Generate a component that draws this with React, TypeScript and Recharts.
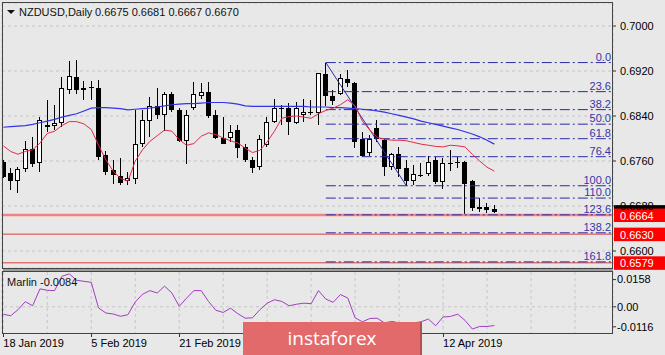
import React from 'react';
import { ComposedChart, Bar, Line, XAxis, YAxis, CartesianGrid, ReferenceLine } from 'recharts';

const FONT = '"Liberation Sans", Arial, Helvetica, sans-serif';
const BG = '#e8e8e8';

// Daily candles NZDUSD, 18 Jan 2019 .. 23 Apr 2019 (index = trading day)
const opens = [
  0.6759, 0.6738, 0.6724, 0.6745, 0.6781, 0.6756, 0.6820, 0.6823, 0.6828, 0.6886,
  0.6910, 0.6890, 0.6892, 0.6889, 0.6771, 0.6744, 0.6734, 0.6724, 0.6728, 0.6790,
  0.6832, 0.6858, 0.6842, 0.6879, 0.6851, 0.6796, 0.6854, 0.6876, 0.6882, 0.6842,
  0.6801, 0.6801, 0.6815, 0.6785, 0.6762, 0.6749, 0.6788, 0.6830, 0.6855, 0.6855,
  0.6828, 0.6842, 0.6846, 0.6846, 0.6915, 0.6876, 0.6880, 0.6905, 0.6899, 0.6799,
  0.6774, 0.6818, 0.6797, 0.6750, 0.6772, 0.6747, 0.6724, 0.6736, 0.6737, 0.6762,
  0.6722, 0.6756, 0.6759, 0.6759, 0.6724, 0.6674, 0.6679, 0.6675,
];
const highs = [
  0.6762, 0.6747, 0.6750, 0.6796, 0.6803, 0.6839, 0.6868, 0.6860, 0.6910, 0.6938,
  0.6940, 0.6902, 0.6902, 0.6904, 0.6777, 0.6762, 0.6765, 0.6741, 0.6851, 0.6851,
  0.6873, 0.6890, 0.6883, 0.6882, 0.6854, 0.6851, 0.6900, 0.6898, 0.6901, 0.6851,
  0.6839, 0.6824, 0.6824, 0.6791, 0.6768, 0.6806, 0.6839, 0.6870, 0.6860, 0.6863,
  0.6865, 0.6871, 0.6868, 0.6916, 0.6935, 0.6886, 0.6914, 0.6921, 0.6901, 0.6812,
  0.6806, 0.6833, 0.6800, 0.6774, 0.6785, 0.6762, 0.6753, 0.6756, 0.6769, 0.6768,
  0.6765, 0.6780, 0.6768, 0.6760, 0.6726, 0.6694, 0.6686, 0.6681,
];
const lows = [
  0.6729, 0.6708, 0.6703, 0.6741, 0.6750, 0.6741, 0.6812, 0.6815, 0.6821, 0.6880,
  0.6880, 0.6868, 0.6868, 0.6762, 0.6735, 0.6720, 0.6717, 0.6717, 0.6720, 0.6785,
  0.6803, 0.6835, 0.6813, 0.6848, 0.6794, 0.6754, 0.6851, 0.6871, 0.6836, 0.6800,
  0.6791, 0.6793, 0.6765, 0.6759, 0.6739, 0.6744, 0.6785, 0.6827, 0.6824, 0.6806,
  0.6826, 0.6830, 0.6842, 0.6824, 0.6857, 0.6860, 0.6877, 0.6892, 0.6783, 0.6768,
  0.6769, 0.6794, 0.6733, 0.6744, 0.6732, 0.6716, 0.6717, 0.6731, 0.6733, 0.6720,
  0.6710, 0.6742, 0.6747, 0.6664, 0.6671, 0.6670, 0.6667, 0.6667,
];
const closes = [
  0.6732, 0.6724, 0.6745, 0.6781, 0.6754, 0.6833, 0.6824, 0.6828, 0.6889, 0.6911,
  0.6886, 0.6886, 0.6889, 0.6768, 0.6741, 0.6735, 0.6721, 0.6729, 0.6790, 0.6833,
  0.6858, 0.6842, 0.6879, 0.6851, 0.6796, 0.6841, 0.6879, 0.6882, 0.6840, 0.6801,
  0.6791, 0.6812, 0.6784, 0.6762, 0.6747, 0.6799, 0.6830, 0.6855, 0.6852, 0.6830,
  0.6854, 0.6848, 0.6847, 0.6916, 0.6876, 0.6867, 0.6907, 0.6898, 0.6794, 0.6769,
  0.6800, 0.6799, 0.6750, 0.6772, 0.6745, 0.6725, 0.6737, 0.6734, 0.6759, 0.6723,
  0.6756, 0.6755, 0.6758, 0.6719, 0.6676, 0.6679, 0.6673, 0.6670,
];
// Fast moving average (red)
const fastMA = [
  0.6787, 0.6777, 0.6772, 0.6777, 0.6780, 0.6792, 0.6809, 0.6813, 0.6823, 0.6830,
  0.6830, 0.6826, 0.6816, 0.6788, 0.6762, 0.6742, 0.6729, 0.6724, 0.6760, 0.6780,
  0.6795, 0.6805, 0.6815, 0.6813, 0.6798, 0.6788, 0.6791, 0.6804, 0.6810, 0.6807,
  0.6801, 0.6796, 0.6792, 0.6783, 0.6775, 0.6779, 0.6794, 0.6813, 0.6836, 0.6839,
  0.6840, 0.6838, 0.6836, 0.6844, 0.6850, 0.6854, 0.6860, 0.6869, 0.6858, 0.6831,
  0.6815, 0.6802, 0.6799, 0.6797, 0.6797, 0.6796, 0.6793, 0.6790, 0.6788, 0.6786,
  0.6785, 0.6788, 0.6787, 0.6785, 0.6772, 0.6760, 0.6749, 0.6742,
];
// Slow moving average (blue)
const slowMA = [
  0.6820, 0.6821, 0.6822, 0.6823, 0.6825, 0.6828, 0.6831, 0.6834, 0.6838, 0.6841,
  0.6844, 0.6849, 0.6854, 0.6855, 0.6855, 0.6854, 0.6853, 0.6851, 0.6852, 0.6853,
  0.6854, 0.6856, 0.6858, 0.6860, 0.6861, 0.6862, 0.6862, 0.6863, 0.6864, 0.6864,
  0.6864, 0.6863, 0.6861, 0.6858, 0.6857, 0.6857, 0.6857, 0.6857, 0.6857, 0.6857,
  0.6857, 0.6857, 0.6856, 0.6856, 0.6856, 0.6855, 0.6855, 0.6854, 0.6853, 0.6852,
  0.6851, 0.6849, 0.6847, 0.6844, 0.6841, 0.6838, 0.6835, 0.6831, 0.6828, 0.6825,
  0.6822, 0.6819, 0.6816, 0.6812, 0.6808, 0.6803, 0.6797, 0.6790,
];
// Marlin oscillator
const marlin = [
  -0.0043, -0.0052, -0.0017, 0.0030, 0.0006, 0.0104, 0.0096, 0.0094, 0.0177, 0.0191,
  0.0154, 0.0148, 0.0142, -0.0007, -0.0036, -0.0042, -0.0055, -0.0046, 0.0028, 0.0073,
  0.0094, 0.0080, 0.0120, 0.0080, 0.0003, 0.0050, 0.0094, 0.0094, 0.0031, -0.0020,
  -0.0033, -0.0008, -0.0040, -0.0066, -0.0064, -0.0017, 0.0021, 0.0041, 0.0031, 0.0006,
  0.0015, 0.0021, 0.0018, 0.0094, 0.0045, 0.0026, 0.0071, 0.0051, -0.0064, -0.0087,
  -0.0068, -0.0066, -0.0093, -0.0085, -0.0093, -0.0104, -0.0093, -0.0087, -0.0071, -0.0110,
  -0.0059, -0.0056, -0.0043, -0.0079, -0.0129, -0.0114, -0.0114, -0.0109,
];

const gridTicks = [0, 6, 12, 18, 24, 30, 36, 42, 48, 54, 60, 66, 72, 78];
// date labels that are visible (the ones under the logo are not shown)
const dateTickIdx = [0, 12, 24, 60];
const dateNames = ['18 Jan 2019', '5 Feb 2019', '21 Feb 2019', '12 Apr 2019'];
const priceTicks = [0.66, 0.668, 0.676, 0.684, 0.692, 0.7];
const marlinTicks = [-0.0116, 0, 0.0158];
const fibLevels = [0, 23.6, 38.2, 50, 61.8, 76.4, 100, 110, 123.6, 138.2, 161.8];
const FIB_HIGH = 0.6935;
const FIB_LOW = 0.6716;
const FIB_FROM = 44;
const FIB_TO = 55;
const hLines = [0.6664, 0.663, 0.6579];
const LAST = 0.667;
const titleText = 'NZDUSD,Daily';
const ohlcText = '0.6675 0.6681 0.6667 0.6670';
const marlinLabel = 'Marlin -0.0084';

const X_DOMAIN: [number, number] = [-0.18, 83.19];
const Y_DOMAIN: [number, number] = [0.65698, 0.70409];
const M_DOMAIN: [number, number] = [-0.0152, 0.0202];

const rows = opens.map((o, i) => ({
  i,
  o,
  h: highs[i],
  l: lows[i],
  c: closes[i],
  range: [lows[i], highs[i]],
  fast: fastMA[i],
  slow: slowMA[i],
  marlin: marlin[i],
}));

function Candle(props: any) {
  const { x, y, width, height } = props;
  const d = props.payload ?? props;
  if (x == null || y == null || d == null) return null;
  const top = Math.min(y, y + height);
  const span = Math.abs(height);
  const { o, h, l, c } = d;
  const toY = (v: number) => (h === l ? top : top + ((h - v) / (h - l)) * span);
  const cx = Math.floor(x + width / 2) + 0.5;
  const bt = Math.round(toY(Math.max(o, c)));
  const bb = Math.round(toY(Math.min(o, c)));
  const up = c > o;
  let body;
  if (bb - bt <= 1) {
    body = <line x1={cx - 2.5} x2={cx + 2.5} y1={bt + 0.5} y2={bt + 0.5} stroke="#000" strokeWidth={1} />;
  } else if (up) {
    body = <rect x={cx - 2} y={bt + 0.5} width={4} height={bb - bt - 1} fill="#fff" stroke="#000" strokeWidth={1} />;
  } else {
    body = <rect x={cx - 2.5} y={bt} width={5} height={bb - bt} fill="#000" />;
  }
  return (
    <g>
      <line x1={cx} x2={cx} y1={Math.round(top)} y2={Math.round(top + span)} stroke="#000" strokeWidth={1} />
      {body}
    </g>
  );
}

function FibLabel(props: any) {
  const vb = props.viewBox;
  if (!vb) return null;
  return (
    <text x={vb.x + vb.width - 2} y={vb.y - 2} textAnchor="end" fontSize={11} fill="#3535a8" fontFamily={FONT}>
      {props.text}
    </text>
  );
}

function Tag(props: any) {
  const vb = props.viewBox;
  if (!vb) return null;
  const x0 = vb.x + vb.width + 1;
  return (
    <g>
      <rect x={x0} y={vb.y - 6.5} width={60} height={13.5} fill={props.bg} />
      {props.text ? (
        <text x={x0 + 6} y={vb.y + 4.5} fontSize={11} fill="#fff" fontFamily={FONT}>
          {props.text}
        </text>
      ) : null}
    </g>
  );
}

function DateTick(props: any) {
  const { x, y, payload } = props;
  const k = dateTickIdx.indexOf(payload.value);
  if (k < 0) return null;
  return (
    <g>
      <line x1={Math.round(x) + 0.5} x2={Math.round(x) + 0.5} y1={y} y2={y + 4} stroke="#333" />
      <text x={x} y={y + 14} fontSize={11} fill="#000" fontFamily={FONT}>
        {dateNames[k]}
      </text>
    </g>
  );
}

export default function App() {
  const fibRange = FIB_HIGH - FIB_LOW;
  return (
    <div style={{ position: 'fixed', left: 0, top: 0, width: 665, height: 355, background: BG, overflow: 'hidden' }}>
      <div style={{ position: 'absolute', left: 0, top: 0 }}>
        <ComposedChart width={665} height={270} data={rows} margin={{ top: 3, right: 0, bottom: 2, left: 2 }}>
          <CartesianGrid stroke="#c6c6c6" strokeDasharray="3 3" />
          <XAxis
            dataKey="i"
            type="number"
            domain={X_DOMAIN}
            allowDataOverflow
            ticks={gridTicks}
            interval={0}
            height={0}
            tick={false}
            tickLine={false}
            axisLine={false}
          />
          <YAxis
            orientation="right"
            type="number"
            domain={Y_DOMAIN}
            allowDataOverflow
            ticks={priceTicks}
            interval={0}
            width={52}
            axisLine={false}
            tickSize={3}
            tickMargin={4}
            tickLine={{ stroke: '#333' }}
            tickFormatter={(v: number) => v.toFixed(4)}
            tick={{ fontSize: 11, fill: '#000', fontFamily: FONT }}
          />
          <ReferenceLine y={LAST} stroke="none" label={(lp: any) => <Tag {...lp} bg="#000" text="" />} />
          {hLines.map((v, k) => (
            <ReferenceLine
              key={'h' + v}
              y={v}
              stroke={k === 0 ? '#f28282' : '#e23a3a'}
              strokeWidth={k === 0 ? 2.5 : 1}
              label={(lp: any) => <Tag {...lp} bg="#ff0000" text={v.toFixed(4)} />}
            />
          ))}
          {fibLevels.map((lv) => {
            const p = FIB_HIGH - (lv / 100) * fibRange;
            return (
              <ReferenceLine
                key={'f' + lv}
                segment={[
                  { x: FIB_FROM, y: p },
                  { x: X_DOMAIN[1], y: p },
                ]}
                stroke="#2a2aa2"
                strokeDasharray="10 3 2 3"
                label={(lp: any) => <FibLabel {...lp} text={lv.toFixed(1)} />}
              />
            );
          })}
          <ReferenceLine
            segment={[
              { x: FIB_FROM, y: FIB_HIGH },
              { x: FIB_TO, y: FIB_LOW },
            ]}
            stroke="#2b2bb0"
            strokeWidth={1}
          />
          <Bar dataKey="range" barSize={5} shape={<Candle />} isAnimationActive={false} />
          <Line type="linear" dataKey="slow" stroke="#3434e6" strokeWidth={1.2} dot={false} isAnimationActive={false} />
          <Line type="linear" dataKey="fast" stroke="#e3294a" strokeWidth={1} dot={false} isAnimationActive={false} />
        </ComposedChart>
      </div>
      <div style={{ position: 'absolute', left: 0, top: 270 }}>
        <ComposedChart width={665} height={85} data={rows} margin={{ top: 2, right: 0, bottom: 0, left: 2 }}>
          <CartesianGrid stroke="#c6c6c6" strokeDasharray="3 3" horizontal={false} />
          <XAxis
            dataKey="i"
            type="number"
            domain={X_DOMAIN}
            allowDataOverflow
            ticks={gridTicks}
            interval={0}
            height={22}
            tickSize={0}
            tickMargin={0}
            tickLine={false}
            axisLine={false}
            tick={<DateTick />}
          />
          <YAxis
            orientation="right"
            type="number"
            domain={M_DOMAIN}
            allowDataOverflow
            ticks={marlinTicks}
            interval={0}
            width={52}
            axisLine={false}
            tickSize={3}
            tickMargin={1}
            tickLine={{ stroke: '#333' }}
            tickFormatter={(v: number) => (v === 0 ? '0.00' : v.toFixed(4))}
            tick={{ fontSize: 11, fill: '#000', fontFamily: FONT }}
          />
          <ReferenceLine y={0} stroke="#c6c6c6" strokeDasharray="3 3" />
          <Line type="linear" dataKey="marlin" stroke="#a43cc0" strokeWidth={1} dot={false} isAnimationActive={false} />
        </ComposedChart>
      </div>
      <svg width={665} height={355} style={{ position: 'absolute', left: 0, top: 0, pointerEvents: 'none' }}>
        <rect x={2.5} y={2.5} width={610} height={266} fill="none" stroke="#444" />
        <rect x={3} y={269} width={610} height={2} fill="#9c9c9c" />
        <rect x={2.5} y={271.5} width={610} height={62} fill="none" stroke="#444" />
        <polygon points="7,10 15,10 11,14" fill="#111" />
        <text x={19} y={15.5} fontSize={11} fill="#111" fontFamily={FONT}>
          {titleText}
        </text>
        <text x={95} y={15.5} fontSize={11} fill="#111" fontFamily={FONT}>
          {ohlcText}
        </text>
        <text x={7} y={285.5} fontSize={11} fill="#111" fontFamily={FONT}>
          {marlinLabel}
        </text>
        <rect x={243} y={322} width={179} height={33} fill="#e36a6a" />
        <rect x={420} y={322} width={2} height={33} fill="#b05050" />
        <text x={332} y={345} fontSize={19} textAnchor="middle" fill="#fff" fontFamily='"Open Sans", sans-serif'>
          instaforex
        </text>
      </svg>
    </div>
  );
}
